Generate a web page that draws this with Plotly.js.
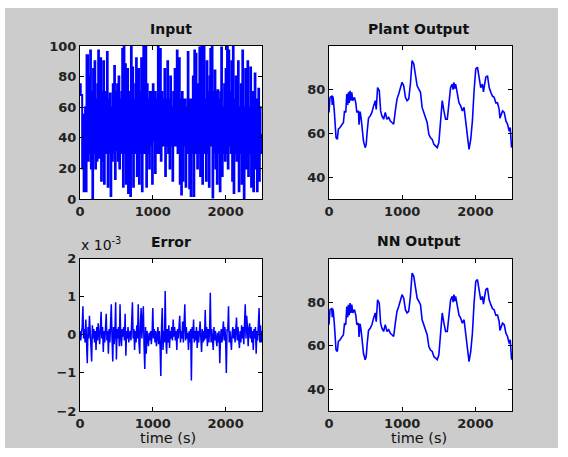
<!DOCTYPE html>
<html>
<head>
<meta charset="utf-8">
<script src="https://cdn.plot.ly/plotly-3.0.1.min.js"></script>
<style>
html,body{margin:0;padding:0;background:#ffffff;width:568px;height:457px;overflow:hidden;}
#chart{position:absolute;left:5px;top:8px;width:553px;height:440px;}
</style>
</head>
<body>
<div id="chart"></div>
<script>
// ---- Data ----
// Input: piecewise-constant random level, one level every 10 s (0 .. 2500 s)
const inputLevels = [
  75,68,68,20,55,5,5,60,5,94,
  94,25,80,30,97,20,70,0,85,30,
  90,20,65,25,75,97,27,75,92,12,
  70,25,90,10,70,30,65,96,8,65,
  30,69,2,60,25,75,30,87,13,70,
  32,75,25,80,20,65,30,70,98,8,
  100,30,88,10,60,85,4,70,25,2,
  100,30,86,8,65,30,75,92,15,70,
  85,10,70,30,92,5,70,100,30,98,
  100,8,75,30,65,20,70,35,70,10,
  75,38,70,17,65,30,70,100,30,80,
  98,25,70,35,65,35,85,15,65,35,
  90,30,65,20,80,35,60,12,70,35,
  85,35,65,97,30,65,92,10,65,3,
  70,12,65,35,65,8,60,30,96,35,
  7,65,2,65,30,80,2,97,30,95,
  60,20,75,30,99,15,70,100,10,70,
  100,30,65,12,90,30,70,8,80,98,
  35,100,1,70,30,84,20,70,10,71,
  30,65,5,70,99,15,60,30,75,25,
  85,30,100,20,97,35,70,30,90,12,
  100,4,65,30,80,25,65,90,5,60,
  30,75,10,97,30,0,60,85,20,65,
  90,15,60,30,86,8,65,70,5,65,
  82,20,65,5,65,72,12,60,30,42,
  42
];

// Plant output (time in s, value)
const plantTime = [
  0,14,37,45,50,59,73,82,96,114,128,151,
  174,197,211,229,243,256,265,277,288,300,311,325,348,
  366,380,403,410,416,425,439,458,471,494,508,522,
  540,563,586,609,632,645,652,664,687,705,723,
  746,769,792,815,838,860,883,906,929,952,
  975,998,1021,1044,1066,1089,1112,1135,1158,1181,
  1204,1227,1250,1272,1295,1318,1341,1364,1387,1410,
  1433,1455,1478,1501,1524,1547,1570,1593,1616,1639,
  1661,1684,1695,1707,1718,1730,1753,1776,1799,1822,1845,1867,
  1890,1913,1936,1959,1982,2005,2028,2050,2073,2096,2110,
  2119,2142,2165,2188,2211,2234,2256,2279,2302,2325,2335,
  2348,2371,2394,2417,2439,2462,2476,2494
];
const plantOutput = [
  69.6,76.5,77,73,77,75.7,70,65,58,57.3,62,62.7,
  64,65,70,69.6,78,73,78.8,74,79.5,75,78.8,75,76.5,
  74,69.6,70.3,64,65.7,70,67,59.6,56.5,53.5,55,61,
  67,68,69.6,72.6,75,71,75,81,79.5,70.3,68,
  66.5,69.6,66.5,67.3,65.7,65,64.2,70.3,75.7,78,
  81,83.4,81.8,76.5,75,75.7,82.6,93.3,91.8,85.7,
  81.8,80.3,78.8,71.9,69.6,67.3,65,59.6,58,57.3,
  55,54.3,53.5,55.8,65.7,75,70.3,66.5,66.5,73.4,
  81,82.6,80,83.4,80.5,82.6,78,74,72.6,70.3,71.9,65.7,
  57.3,52.7,57.3,65.7,79.5,89.5,90.3,85.7,81,82.6,79,
  81,85.7,86.4,81,78.8,77,76.5,74,74,71,67,
  68,70.3,69.6,65.7,64.2,61,62.7,53.5
];
// NN output (same time grid) - visually identical to the plant output
const nnOutput = [
  69.6,76.5,77,73,77,75.7,70,65,58,57.3,62,62.7,
  64,65,70,69.6,78,73,78.8,74,79.5,75,78.8,75,76.5,
  74,69.6,70.3,64,65.7,70,67,59.6,56.5,53.5,55,61,
  67,68,69.6,72.6,75,71,75,81,79.5,70.3,68,
  66.5,69.6,66.5,67.3,65.7,65,64.2,70.3,75.7,78,
  81,83.4,81.8,76.5,75,75.7,82.6,93.3,91.8,85.7,
  81.8,80.3,78.8,71.9,69.6,67.3,65,59.6,58,57.3,
  55,54.3,53.5,55.8,65.7,75,70.3,66.5,66.5,73.4,
  81,82.6,80,83.4,80.5,82.6,78,74,72.6,70.3,71.9,65.7,
  57.3,52.7,57.3,65.7,79.5,89.5,90.3,85.7,81,82.6,79,
  81,85.7,86.4,81,78.8,77,76.5,74,74,71,67,
  68,70.3,69.6,65.7,64.2,61,62.7,53.5
];
// Error, in units of 1e-3, one value every 10 s
const errorE3 = [
  0.1,-0.15,0.05,0.2,0.75,-0.1,0.15,-0.2,0.4,0.0,
  -0.75,0.2,-0.1,0.5,0.1,-0.2,-0.7,0.25,-0.1,0.15,
  -0.2,0.1,-0.4,0.2,-0.15,0.3,0.05,-0.25,0.15,0.6,
  -0.1,0.2,-0.45,0.1,-0.2,0.25,0.55,-0.15,0.1,-0.5,
  0.15,-0.2,0.3,0.8,-0.1,-0.7,0.2,-0.25,0.1,0.85,
  -0.65,0.15,-0.1,0.2,-0.3,0.8,-0.1,-0.3,0.15,-0.05,
  0.2,-0.15,0.55,-0.55,0.1,-0.1,0.2,-0.2,0.05,0.1,
  -0.15,0.2,0.85,-0.1,0.15,-0.4,0.1,-0.2,0.25,-0.1,
  0.8,-0.2,-0.5,0.3,0.7,-0.1,0.4,0.75,-0.3,-0.9,
  0.2,-0.5,0.1,-0.2,-0.3,0.05,-0.15,0.1,-0.25,0.0,
  0.7,-0.1,0.15,-0.2,0.1,-0.3,0.05,0.2,-0.25,0.1,
  -0.3,-1.08,0.2,0.7,-0.4,0.1,-0.2,1.15,-0.1,-0.5,
  0.15,-0.2,0.25,-0.35,0.1,-0.1,0.2,-0.15,0.4,-0.05,
  0.2,-0.15,0.1,-0.4,0.15,-0.1,0.2,0.5,-0.2,0.1,
  -0.1,0.35,-0.2,0.15,0.8,-0.15,0.2,-0.1,0.05,-0.4,
  0.1,-0.2,0.15,-1.2,0.2,-0.1,0.4,-0.2,0.1,-0.15,
  0.2,-0.35,0.1,-0.2,0.25,0.35,-0.1,-0.45,0.15,-0.2,
  0.1,-0.15,0.65,-0.1,0.2,-0.3,0.15,-0.2,0.1,1.1,
  -0.2,0.15,-0.1,-0.4,0.2,-0.15,0.1,-0.25,-0.3,0.05,
  -0.2,0.1,-0.75,-0.1,0.15,-0.2,0.1,0.35,-0.15,0.2,
  -0.1,-1.0,0.15,0.1,0.75,-0.2,0.1,-0.15,-0.4,0.05,
  0.2,-0.1,0.15,-0.2,0.1,0.45,-0.15,0.2,-0.1,-0.35,
  0.1,-0.2,0.25,-0.1,0.2,-0.25,0.3,0.8,-0.1,0.5,
  0.2,-0.3,0.15,0.3,-0.1,0.2,-0.2,0.1,-0.4,0.15,
  -0.1,0.2,-0.5,0.1,-0.15,0.3,0.7,-0.2,0.25,-0.2,
  0.1
];
const sampleStep = 10; // s between stored samples of input and error
const xTicks = [0, 1000, 2000];
const inputTicks = [0, 20, 40, 60, 80, 100];
const outputTicks = [40, 60, 80];
const errorTicks = [-2, -1, 0, 1, 2];
const titles = ["Input", "Plant Output", "Error", "NN Output"];

// ---- Build ----
const gridTime = inputLevels.map((_, i) => i * sampleStep);
const errTime = errorE3.map((_, i) => i * sampleStep);
const blue = '#0000ff';

const traces = [
  {x: gridTime, y: inputLevels, type: 'scatter', mode: 'lines', line: {color: blue, width: 2.0, shape: 'hv'}, xaxis: 'x', yaxis: 'y', hoverinfo: 'skip'},
  {x: plantTime, y: plantOutput, type: 'scatter', mode: 'lines', line: {color: blue, width: 1.6}, xaxis: 'x2', yaxis: 'y2', hoverinfo: 'skip'},
  {x: errTime, y: errorE3, type: 'scatter', mode: 'lines', line: {color: blue, width: 1.5}, xaxis: 'x3', yaxis: 'y3', hoverinfo: 'skip'},
  {x: plantTime, y: nnOutput, type: 'scatter', mode: 'lines', line: {color: blue, width: 1.6}, xaxis: 'x4', yaxis: 'y4', hoverinfo: 'skip'}
];

const tickFont = {family: 'DejaVu Sans', size: 13, color: '#222', weight: 'bold'};
function ax(domain, range, tickvals, anchor) {
  return {
    domain: domain, range: range, tickvals: tickvals, anchor: anchor,
    ticks: 'inside', ticklen: 4, tickwidth: 1, tickcolor: '#000',
    showline: true, linecolor: '#000', linewidth: 1, mirror: 'allticks',
    showgrid: false, zeroline: false, tickfont: tickFont, fixedrange: true
  };
}
const W = 553, H = 440;
const px = v => (v - 5) / W;
const py = v => 1 - (v - 8) / H;
const colL = [px(80), px(262)], colR = [px(329), px(512)];
const rowT = [py(199), py(46)], rowB = [py(411), py(258.5)];

const titleFont = {family: 'DejaVu Sans', size: 14, color: '#111', weight: 'bold'};
const labFont = {family: 'DejaVu Sans', size: 14.5, color: '#111'};
const ann = (text, x, y, font, xanchor, yanchor) => ({text, x, y, xref: 'paper', yref: 'paper', showarrow: false, font, xanchor: xanchor || 'center', yanchor: yanchor || 'bottom'});

const layout = {
  width: W, height: H,
  margin: {l: 0, r: 0, t: 0, b: 0},
  paper_bgcolor: '#cccccc', plot_bgcolor: '#ffffff',
  showlegend: false,
  xaxis: ax(colL, [0, 2500], xTicks, 'y'),
  yaxis: ax(rowT, [0, 100], inputTicks, 'x'),
  xaxis2: ax(colR, [0, 2500], xTicks, 'y2'),
  yaxis2: ax(rowT, [30, 100], outputTicks, 'x2'),
  xaxis3: ax(colL, [0, 2500], xTicks, 'y3'),
  yaxis3: ax(rowB, [-2, 2], errorTicks, 'x3'),
  xaxis4: ax(colR, [0, 2500], xTicks, 'y4'),
  yaxis4: ax(rowB, [30, 100], outputTicks, 'x4'),
  annotations: [
    ann(titles[0], px(171), py(39), titleFont),
    ann(titles[1], px(419), py(39), titleFont),
    ann(titles[2], px(171), py(252), titleFont),
    ann(titles[3], px(419), py(251), titleFont),
    ann('time (s)', px(168), py(437.5), labFont, 'center', 'middle'),
    ann('time (s)', px(419), py(437.5), labFont, 'center', 'middle'),
    ann('x 10<sup>-3</sup>', px(79), py(255), {family: 'DejaVu Sans', size: 14, color: '#111'}, 'left', 'bottom')
  ]
};
Plotly.newPlot('chart', traces, layout, {staticPlot: true, displayModeBar: false});
</script>
</body>
</html>
